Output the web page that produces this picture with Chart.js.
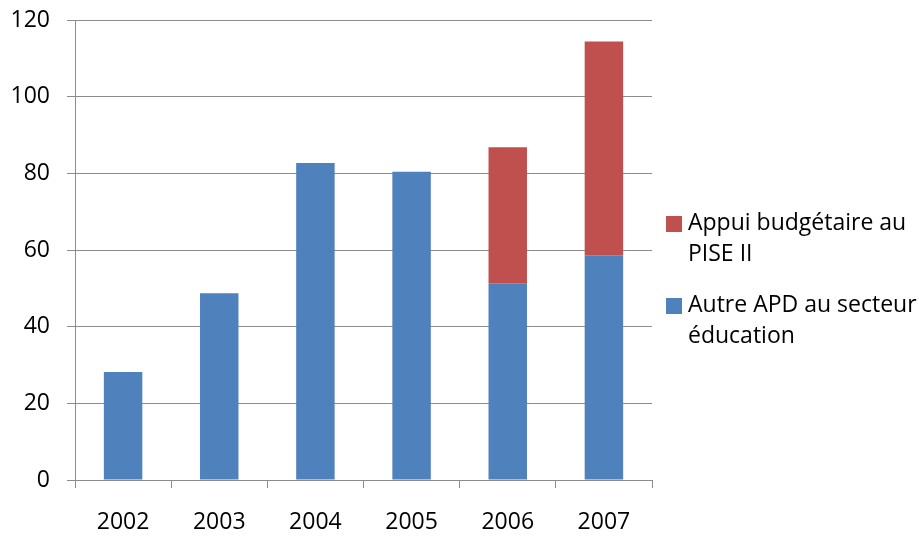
<!DOCTYPE html>
<html>
<head>
<meta charset="utf-8">
<script src="https://cdn.jsdelivr.net/npm/chart.js@4.4.0/dist/chart.umd.min.js"></script>
<style>
  body { margin: 0; background: #fff; }
  #wrap { position: relative; width: 919px; height: 536px; }
  #legend { position: absolute; left: 666px; top: 206px; font-family: 'Open Sans'; font-size: 23px; line-height: 31px; color: #000; }
  .item { position: relative; padding-left: 22px; white-space: nowrap; margin-bottom: 20px; }
  .box { position: absolute; left: 0; top: 10px; width: 16px; height: 16px; }
</style>
</head>
<body>
<div id="wrap">
  <canvas id="myChart" width="919" height="536"></canvas>
  <div id="legend"></div>
</div>
<script>
// Years on the x axis
let years = ['2002', '2003', '2004', '2005', '2006', '2007'];

// Series values
let autreApd = [28.2, 48.7, 82.7, 80.4, 51.3, 58.6];
let appuiPise = [null, null, null, null, 35.5, 55.8];

// Series names, split the way the legend wraps them
let autreApdLines = ['Autre APD au secteur', 'éducation'];
let appuiPiseLines = ['Appui budgétaire au', 'PISE II'];

// y axis range
let yMin = 0;
let yMax = 120;
let yStep = 20;

let blue = '#4f81bd';
let red = '#c0504d';
let gridColor = '#8c8c8c';
let font = { family: 'Open Sans', size: 23 };

/**
 * Legend as html, top item is the stacked series on top
 */
function drawLegend(items) {
    let html = '';
    for (var i = 0; i < items.length; i++) {
        html += '<div class="item"><span class="box" style="background:' + items[i].color + '"></span>'
            + items[i].lines.join('<br>') + '</div>';
    }
    document.getElementById('legend').innerHTML = html;
}

let ctx = document.getElementById('myChart').getContext('2d');
window.myChart = new Chart(ctx, {
    type: 'bar',
    data: {
        labels: years,
        datasets: [{
            label: autreApdLines.join(' '),
            data: autreApd,
            backgroundColor: blue
        }, {
            label: appuiPiseLines.join(' '),
            data: appuiPise,
            backgroundColor: red
        }]
    },
    options: {
        responsive: false,
        animation: false,
        layout: { padding: { top: 20, right: 267, left: 0, bottom: 0 } },
        datasets: { bar: { barPercentage: 0.4, categoryPercentage: 1 } },
        plugins: {
            legend: { display: false },
            tooltip: { enabled: false }
        },
        scales: {
            x: {
                stacked: true,
                grid: { offset: true, drawOnChartArea: false, color: gridColor, tickLength: 8 },
                border: { color: gridColor },
                ticks: { font: font, color: '#000', padding: 21 },
                afterFit: function (scale) { scale.height = 56; }
            },
            y: {
                stacked: true,
                min: yMin,
                max: yMax,
                grid: { color: gridColor, tickLength: 8 },
                border: { color: gridColor },
                ticks: { stepSize: yStep, font: font, color: '#000', padding: 17 },
                afterFit: function (scale) {
                    scale.width = 75;
                    scale.paddingTop = 0;
                    scale.paddingBottom = 0;
                }
            }
        }
    }
});

drawLegend([
    { color: red, lines: appuiPiseLines },
    { color: blue, lines: autreApdLines }
]);
</script>
</body>
</html>
